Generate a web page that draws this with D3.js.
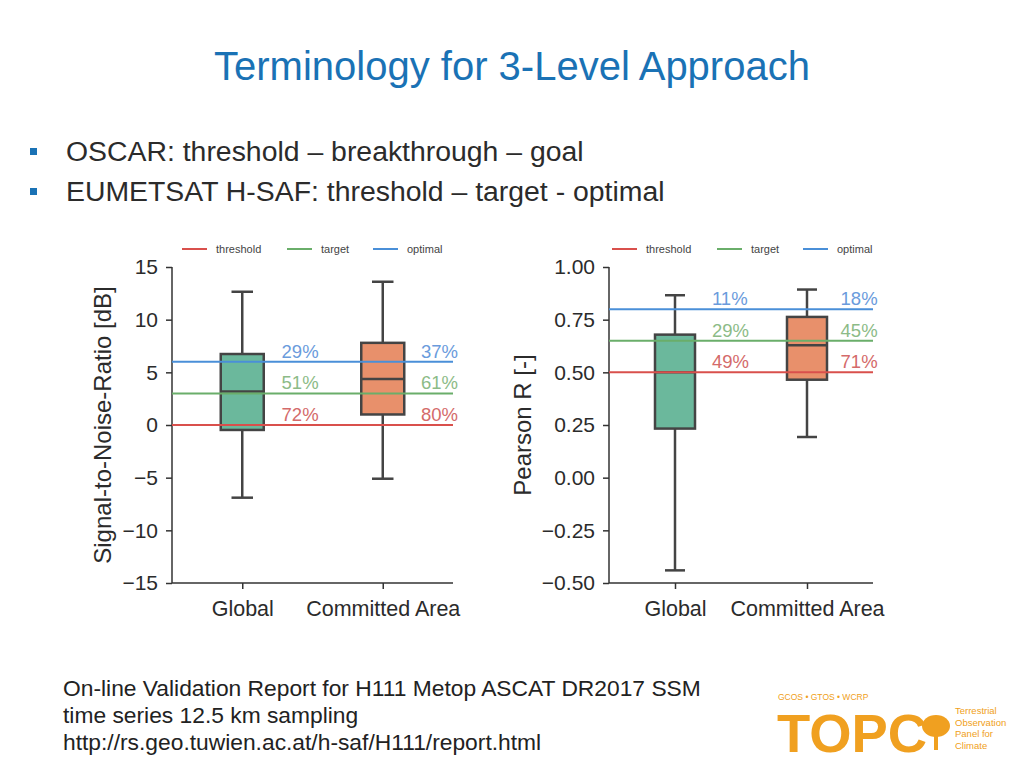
<!DOCTYPE html>
<html><head><meta charset="utf-8">
<script src="https://cdn.jsdelivr.net/npm/d3@7"></script>
<style>body{margin:0;background:#fff}svg{display:block}text{font-family:"Liberation Sans",Arial,sans-serif}</style>
</head><body><svg id="c" width="1024" height="768"></svg>
<script>
const categories = ["Global", "Committed Area"];
// SNR box stats: [whiskerLow, q1, median, q3, whiskerHigh]
const snrStats = [[-6.9, -0.47, 3.17, 6.74, 12.65], [-5.1, 1.0, 4.37, 7.8, 13.6]];
const snrTicks = [-15, -10, -5, 0, 5, 10, 15];
const snrLevels = [0, 3, 6]; // threshold, target, optimal
const snrPct = [["72%", "51%", "29%"], ["80%", "61%", "37%"]];
const rStats = [[-0.44, 0.233, 0.50, 0.679, 0.866], [0.193, 0.465, 0.628, 0.763, 0.893]];
const rTicks = [-0.5, -0.25, 0, 0.25, 0.5, 0.75, 1.0];
const rLevels = [0.5, 0.65, 0.8];
const rPct = [["49%", "29%", "11%"], ["71%", "45%", "18%"]];
const levelNames = ["threshold", "target", "optimal"];
const levelColors = ["#d9504c", "#6aae6a", "#4a8fd8"];
const labelColors = ["#d46a6a", "#8cbb87", "#6a9bdc"];
const boxColors = ["#6bb89c", "#e8906b"];

const svg = d3.select("#c");
svg.append("rect").attr("width", 1024).attr("height", 768).attr("fill", "#fff");

svg.append("text").attr("x", 512).attr("y", 80).attr("text-anchor", "middle")
  .attr("font-size", 40).attr("fill", "#1a72b5").text("Terminology for 3-Level Approach");

const bullets = ["OSCAR: threshold – breakthrough – goal", "EUMETSAT H-SAF: threshold – target - optimal"];
bullets.forEach((b, i) => {
  const y = 161 + i * 40;
  svg.append("rect").attr("x", 30).attr("y", y - 13).attr("width", 7).attr("height", 7).attr("fill", "#1a72b5");
  svg.append("text").attr("x", 66).attr("y", y).attr("font-size", 28.4).attr("fill", "#2b2b2b").text(b);
});

const footer = ["On-line Validation Report for H111 Metop ASCAT DR2017 SSM", "time series 12.5 km sampling", "http://rs.geo.tuwien.ac.at/h-saf/H111/report.html"];
footer.forEach((t, i) => svg.append("text").attr("x", 63).attr("y", 696 + i * 27).attr("font-size", 22.8).attr("fill", "#222").text(t));

function panel(cfg) {
  const g = svg.append("g");
  const x = d3.scalePoint().domain(categories).range([cfg.x0, cfg.x1]).padding(0.5);
  const y = d3.scaleLinear().domain(cfg.domain).range([cfg.yb, cfg.yt]);
  const step = x.step();
  const bw = cfg.bw;
  // axes
  const ya = g.append("g").attr("transform", `translate(${cfg.x0},0)`)
    .call(d3.axisLeft(y).tickValues(cfg.ticks).tickFormat(cfg.fmt).tickSizeOuter(0).tickSize(6).tickPadding(8));
  const xa = g.append("g").attr("transform", `translate(0,${cfg.yb})`)
    .call(d3.axisBottom(x).tickSizeOuter(0).tickSize(6).tickPadding(9));
  [ya, xa].forEach(a => {
    a.selectAll("path,line").attr("stroke", "#333").attr("stroke-width", 1.5);
    a.selectAll("text").attr("fill", "#2b2b2b").attr("font-size", 21).attr("font-family", "Liberation Sans, Arial, sans-serif");
  });
  xa.selectAll("text").attr("font-size", 21.5).attr("dy", "0.85em");
  xa.select(".domain").attr("d", `M${cfg.x0},0H${cfg.x1}`);
  ya.select(".domain").attr("d", `M0,${cfg.yb}V${cfg.yt}`);
  // y title
  g.append("text").attr("transform", `translate(${cfg.titleX},${(cfg.yt + cfg.yb) / 2}) rotate(-90)`)
    .attr("text-anchor", "middle").attr("font-size", 24).attr("fill", "#2b2b2b").text(cfg.title);
  // boxes
  cfg.stats.forEach((s, i) => {
    const cx = x(categories[i]);
    const st = "#444";
    g.append("line").attr("x1", cx).attr("x2", cx).attr("y1", y(s[0])).attr("y2", y(s[1])).attr("stroke", st).attr("stroke-width", 2.5);
    g.append("line").attr("x1", cx).attr("x2", cx).attr("y1", y(s[3])).attr("y2", y(s[4])).attr("stroke", st).attr("stroke-width", 2.5);
    [s[0], s[4]].forEach(v => g.append("line").attr("x1", cx - bw / 4).attr("x2", cx + bw / 4).attr("y1", y(v)).attr("y2", y(v)).attr("stroke", st).attr("stroke-width", 2.5));
    g.append("rect").attr("x", cx - bw / 2).attr("y", y(s[3])).attr("width", bw).attr("height", y(s[1]) - y(s[3]))
      .attr("fill", boxColors[i]).attr("stroke", st).attr("stroke-width", 2.5);
    g.append("line").attr("x1", cx - bw / 2).attr("x2", cx + bw / 2).attr("y1", y(s[2])).attr("y2", y(s[2])).attr("stroke", st).attr("stroke-width", 2.5);
  });
  // level lines
  cfg.levels.forEach((v, k) => {
    g.append("line").attr("x1", cfg.x0).attr("x2", cfg.x1).attr("y1", y(v)).attr("y2", y(v))
      .attr("stroke", levelColors[k]).attr("stroke-width", 2);
    cfg.pct.forEach((p, i) => {
      const cx = x(categories[i]);
      g.append("text").attr("x", i === 0 ? cx + 0.28 * step : cx + 0.535 * step).attr("y", y(v) - 4)
        .attr("text-anchor", i === 0 ? "start" : "end").attr("font-size", 18.5).attr("fill", labelColors[k]).text(p[k]);
    });
  });
  // legend
  const lx = cfg.legX;
  levelNames.forEach((n, k) => {
    const ox = lx + cfg.legOff[k];
    g.append("line").attr("x1", ox).attr("x2", ox + 25).attr("y1", 249).attr("y2", 249).attr("stroke", levelColors[k]).attr("stroke-width", 2);
    g.append("text").attr("x", ox + 34).attr("y", 253).attr("font-size", 11).attr("fill", "#444").text(n);
  });
}

panel({x0: 172, x1: 453, yt: 267, yb: 583, domain: [-15, 15], ticks: snrTicks, fmt: d3.format("d"),
  stats: snrStats, levels: snrLevels, pct: snrPct, bw: 43, title: "Signal-to-Noise-Ratio [dB]", titleX: 111,
  legX: 182, legOff: [0, 105, 191]});
panel({x0: 609, x1: 873, yt: 267, yb: 583, domain: [-0.5, 1.0], ticks: rTicks, fmt: d3.format(".2f"),
  stats: rStats, levels: rLevels, pct: rPct, bw: 40, title: "Pearson R [-]", titleX: 531,
  legX: 612, legOff: [0, 105, 191]});

// TOPC logo (approximation)
const logo = svg.append("g").attr("fill", "#f0a020");
logo.append("text").attr("x", 778).attr("y", 700).attr("font-size", 8.5).text("GCOS • GTOS • WCRP");
logo.append("text").attr("x", 777).attr("y", 752).attr("font-size", 54).attr("font-weight", "bold")
  .attr("font-family", "Liberation Serif, serif").attr("textLength", 150).attr("lengthAdjust", "spacingAndGlyphs").text("TOPC");
logo.append("ellipse").attr("cx", 936).attr("cy", 726).attr("rx", 14).attr("ry", 11);
logo.append("rect").attr("x", 934).attr("y", 730).attr("width", 4).attr("height", 20);
["Terrestrial", "Observation", "Panel for", "Climate"].forEach((t, i) =>
  logo.append("text").attr("x", 955).attr("y", 714 + i * 11.5).attr("font-size", 9.5).text(t));
</script></body></html>
